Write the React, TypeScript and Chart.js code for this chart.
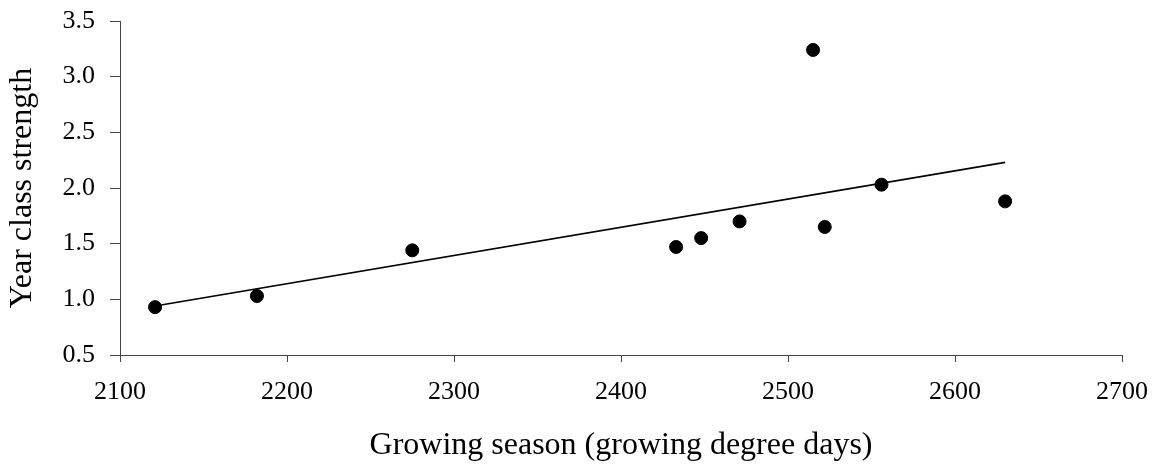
import React, { useEffect, useRef } from "react";
import { Chart, registerables } from "chart.js";

Chart.register(...registerables);

const growingDegreeDays = [2121, 2182, 2275, 2433, 2448, 2471, 2515, 2522, 2556, 2630];
const yearClassStrength = [0.93, 1.03, 1.44, 1.47, 1.55, 1.7, 3.24, 1.65, 2.03, 1.88];
const trendX = [2121, 2630];
const trendY = [0.94, 2.23];
const xTitle = "Growing season (growing degree days)";
const yTitle = "Year class strength";

const FONT = "'Liberation Serif', 'Times New Roman', serif";

export default function App() {
  const ref = useRef<HTMLCanvasElement | null>(null);

  useEffect(() => {
    document.body.style.margin = "0";
    const canvas = ref.current;
    if (!canvas) return;
    const points = growingDegreeDays.map((x, i) => ({ x, y: yearClassStrength[i] }));
    const trend = trendX.map((x, i) => ({ x, y: trendY[i] }));
    const chart = new Chart(canvas, {
      type: "scatter",
      data: {
        datasets: [
          {
            data: points,
            backgroundColor: "#000",
            borderColor: "#000",
            pointRadius: 6.5,
            pointHoverRadius: 6.5,
            showLine: false,
            order: 1,
          },
          {
            data: trend,
            borderColor: "#000",
            borderWidth: 1.6,
            pointRadius: 0,
            showLine: true,
            fill: false,
            order: 0,
          },
        ],
      },
      options: {
        responsive: false,
        maintainAspectRatio: false,
        animation: false,
        devicePixelRatio: 1,
        layout: { padding: { top: 21, right: 33, bottom: 0, left: 0 } },
        plugins: { legend: { display: false }, tooltip: { enabled: false } },
        scales: {
          x: {
            type: "linear",
            min: 2100,
            max: 2700,
            afterFit: (s: any) => {
              s.height = 113;
              s.paddingLeft = 0;
              s.paddingRight = 0;
              s.paddingTop = 0;
              s.paddingBottom = 0;
            },
            border: { display: true, color: "#444", width: 1 },
            grid: { display: true, drawOnChartArea: false, drawTicks: true, tickLength: 7, color: "#444" },
            ticks: {
              stepSize: 100,
              padding: 15,
              color: "#000",
              font: { family: FONT, size: 26 },
              callback: (v: any) => String(v),
              maxRotation: 0,
            },
            title: {
              display: true,
              text: xTitle,
              color: "#000",
              font: { family: FONT, size: 32 },
              padding: { top: 0, bottom: 3 },
            },
          },
          y: {
            type: "linear",
            min: 0.5,
            max: 3.5,
            afterFit: (s: any) => {
              s.width = 120;
              s.paddingLeft = 0;
              s.paddingRight = 0;
              s.paddingTop = 0;
              s.paddingBottom = 0;
            },
            border: { display: true, color: "#444", width: 1 },
            grid: { display: true, drawOnChartArea: false, drawTicks: true, tickLength: 10, color: "#444" },
            ticks: {
              stepSize: 0.5,
              padding: 15,
              color: "#000",
              font: { family: FONT, size: 26 },
              callback: (v: any) => Number(v).toFixed(1),
            },
            title: {
              display: true,
              text: yTitle,
              color: "#000",
              font: { family: FONT, size: 32 },
              padding: { top: 3, bottom: 0 },
            },
          },
        },
      },
    });
    return () => chart.destroy();
  }, []);

  return (
    <div style={{ width: 1155, height: 468 }}>
      <canvas ref={ref} width={1155} height={468} style={{ width: 1155, height: 468 }} />
    </div>
  );
}
